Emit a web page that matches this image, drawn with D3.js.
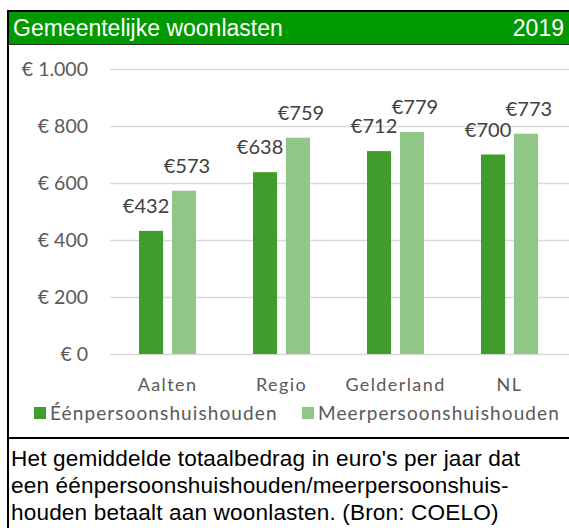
<!DOCTYPE html>
<html>
<head>
<meta charset="utf-8">
<script src="https://cdn.jsdelivr.net/npm/d3@7"></script>
<style>
  body { margin: 0; background: #fff; }
  svg { display: block; }
</style>
</head>
<body>
<script>
// data
var categories = ["Aalten", "Regio", "Gelderland", "NL"];
var seriesNames = ["Éénpersoonshuishouden", "Meerpersoonshuishouden"];
var eenpersoons = [432, 638, 712, 700];
var meerpersoons = [573, 759, 779, 773];
var yTicks = [0, 200, 400, 600, 800, 1000];
var title = "Gemeentelijke woonlasten";
var year = "2019";
var caption = [
  "Het gemiddelde totaalbedrag in euro's per jaar dat",
  "een éénpersoonshuishouden/meerpersoonshuis-",
  "houden betaalt aan woonlasten. (Bron: COELO)"
];

var width = 569, height = 528;
var colors = ["#409c2b", "#90c787"];
var labelFont = "Lato, 'Open Sans', sans-serif";
var arial = "'Liberation Sans', Arial, sans-serif";

var svg = d3.select("body").append("svg")
  .attr("width", width)
  .attr("height", height);

// header bar
svg.append("rect")
  .attr("x", 7).attr("y", 11)
  .attr("width", width - 7).attr("height", 33)
  .attr("fill", "#009900");
svg.append("line")
  .attr("x1", 7).attr("x2", width)
  .attr("y1", 11).attr("y2", 11)
  .attr("stroke", "#000").attr("stroke-width", 2);
svg.append("line")
  .attr("x1", 7).attr("x2", width)
  .attr("y1", 44.5).attr("y2", 44.5)
  .attr("stroke", "#333").attr("stroke-width", 1);
svg.append("text")
  .attr("x", 13).attr("y", 36)
  .attr("fill", "#fff")
  .style("font-family", arial)
  .style("font-size", "23px")
  .text(title);
svg.append("text")
  .attr("x", 564).attr("y", 36)
  .attr("text-anchor", "end")
  .attr("fill", "#fff")
  .style("font-family", arial)
  .style("font-size", "23px")
  .text(year);

// left border and separator
svg.append("line")
  .attr("x1", 8).attr("x2", 8)
  .attr("y1", 10).attr("y2", height)
  .attr("stroke", "#000").attr("stroke-width", 2);
svg.append("line")
  .attr("x1", 7).attr("x2", width)
  .attr("y1", 438).attr("y2", 438)
  .attr("stroke", "#000").attr("stroke-width", 2);

// scales
var y = d3.scaleLinear().domain([0, 1000]).range([354, 69]);
var x0 = d3.scaleBand().domain(categories).range([110.5, 566.5]).paddingInner(0.5).paddingOuter(0.25);
var x1 = d3.scaleBand().domain([0, 1]).range([0, x0.bandwidth()]).paddingInner(0.27);

// gridlines
svg.append("g")
  .selectAll("line")
  .data(yTicks)
  .enter().append("line")
  .attr("x1", 110).attr("x2", width)
  .attr("y1", d => Math.round(y(d)) + 0.5)
  .attr("y2", d => Math.round(y(d)) + 0.5)
  .attr("stroke", "#d9d9d9")
  .attr("stroke-width", 1.5);

// y axis labels
var fmt = d => "€ " + d3.format(",")(d).replace(/,/g, ".");
svg.append("g")
  .selectAll("text")
  .data(yTicks)
  .enter().append("text")
  .attr("x", 88)
  .attr("y", d => y(d) + 6.5)
  .attr("text-anchor", "end")
  .attr("fill", "#595959")
  .style("font-family", labelFont)
  .style("font-size", "19.5px")
  .text(fmt);

// bars
var rows = categories.map((c, i) => ({ cat: c, vals: [eenpersoons[i], meerpersoons[i]] }));
var groups = svg.append("g").selectAll("g")
  .data(rows)
  .enter().append("g")
  .attr("transform", d => "translate(" + x0(d.cat) + ",0)");

groups.selectAll("rect")
  .data(d => d.vals.map((v, k) => ({ v: v, k: k })))
  .enter().append("rect")
  .attr("x", d => x1(d.k))
  .attr("y", d => y(d.v))
  .attr("width", x1.bandwidth())
  .attr("height", d => y(0) - y(d.v))
  .attr("fill", d => colors[d.k]);

// value labels
groups.selectAll("text")
  .data(d => d.vals.map((v, k) => ({ v: v, k: k })))
  .enter().append("text")
  .attr("x", d => x1(d.k) + x1.bandwidth() / 2 + (d.k === 0 ? -5 : 3))
  .attr("y", d => y(d.v) - 18)
  .attr("text-anchor", "middle")
  .attr("fill", "#404040")
  .style("font-family", labelFont)
  .style("font-size", "20px")
  .text(d => "€" + d.v);

// category labels
svg.append("g")
  .selectAll("text")
  .data(categories)
  .enter().append("text")
  .attr("x", d => x0(d) + x0.bandwidth() / 2)
  .attr("y", 391)
  .attr("text-anchor", "middle")
  .attr("fill", "#595959")
  .style("font-family", labelFont)
  .style("font-size", "18px")
  .style("letter-spacing", "1.4px")
  .text(d => d);

// legend
var legend = svg.append("g").attr("transform", "translate(34,407)");
var lx = [0, 268];
seriesNames.forEach(function (name, i) {
  legend.append("rect")
    .attr("x", lx[i]).attr("y", 0)
    .attr("width", 12).attr("height", 12)
    .attr("fill", colors[i]);
  legend.append("text")
    .attr("x", lx[i] + 16).attr("y", 13)
    .attr("fill", "#595959")
    .style("font-family", labelFont)
    .style("font-size", "19px")
    .style("letter-spacing", "1.1px")
    .text(name);
});

// caption
svg.append("g")
  .selectAll("text")
  .data(caption)
  .enter().append("text")
  .attr("x", 11)
  .attr("y", (d, i) => 466 + i * 27)
  .attr("fill", "#000")
  .style("font-family", arial)
  .style("font-size", "22.6px")
  .style("letter-spacing", "0.15px")
  .text(d => d);
</script>
</body>
</html>
